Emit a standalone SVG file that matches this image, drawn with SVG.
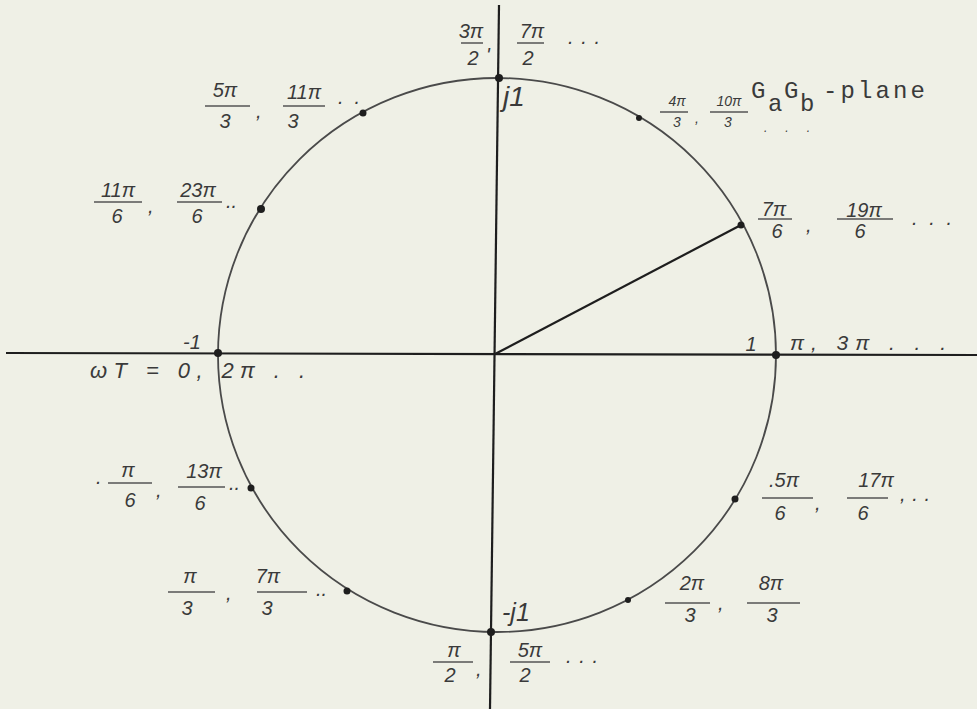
<svg xmlns="http://www.w3.org/2000/svg" width="977" height="709" viewBox="0 0 977 709">
<style>
.h{font-family:"Liberation Sans","DejaVu Sans",sans-serif;font-style:italic;font-size:20px;fill:#3a3a3a;text-anchor:middle}
.s{font-family:"Liberation Sans","DejaVu Sans",sans-serif;font-style:italic;font-size:20px;fill:#3a3a3a}
.sm{font-size:14px}
.m{font-family:"Liberation Mono","Courier New",monospace;font-size:24px;fill:#3a3a3a}
.bar{stroke:#555;stroke-width:1.5}
.ax{stroke:#1e1e1e;stroke-width:2.2;fill:none}
.circ{stroke:#4a4a4a;stroke-width:1.8;fill:none}
.dot{fill:#1e1e1e}
</style>
<rect width="977" height="709" fill="#eff0e6"/>
<g id="connectors">
<line class="ax" x1="6" y1="353" x2="977" y2="355"/>
<line class="ax" x1="499" y1="5" x2="490" y2="709"/>
<ellipse class="circ" cx="497" cy="355" rx="279" ry="277"/>
<line class="ax" x1="495" y1="354" x2="741" y2="225" stroke-width="2"/>
</g>
<g id="points">
<circle class="dot" cx="499" cy="78" r="4"/>
<circle class="dot" cx="363" cy="113" r="3.5"/>
<circle class="dot" cx="261" cy="209" r="4"/>
<circle class="dot" cx="639" cy="118" r="3"/>
<circle class="dot" cx="741" cy="225" r="3.5"/>
<circle class="dot" cx="776" cy="355" r="4"/>
<circle class="dot" cx="218" cy="353" r="4"/>
<circle class="dot" cx="251" cy="488" r="3.5"/>
<circle class="dot" cx="347" cy="591" r="3.5"/>
<circle class="dot" cx="491" cy="632" r="4"/>
<circle class="dot" cx="628" cy="600" r="3"/>
<circle class="dot" cx="735" cy="499" r="3.5"/>
</g>
<g id="label-3pi2">
<text class="h" x="471" y="38">3π</text><line class="bar" x1="461" y1="43" x2="483" y2="43"/><text class="h" x="473" y="65">2</text><text class="s" x="486" y="62">'</text>
</g>
<g id="label-7pi2">
<text class="h" x="532" y="38">7π</text><line class="bar" x1="517" y1="43" x2="544" y2="43"/><text class="h" x="528" y="65">2</text><text class="s" x="568" y="44" textLength="32">. . .</text>
</g>
<g id="label-j1"><text class="s" x="503" y="106" style="font-size:28px">j1</text></g>
<g id="label-4pi3">
<text class="h sm" x="677" y="106">4π</text><line class="bar" x1="660" y1="112" x2="688" y2="112"/><text class="h sm" x="677" y="127">3</text><text class="s sm" x="695" y="123">,</text>
</g>
<g id="label-10pi3">
<text class="h sm" x="729" y="106">10π</text><line class="bar" x1="710" y1="112" x2="748" y2="112"/><text class="h sm" x="728" y="127">3</text><text class="s" x="764" y="132" style="font-size:12px" textLength="46">. . .</text>
</g>
<g id="title">
<text class="m" x="751" y="98">G</text><text class="m" x="768" y="111">a</text><text class="m" x="784" y="98">G</text><text class="m" x="800" y="111">b</text><text class="m" x="823" y="98" textLength="102">-plane</text>
</g>
<g id="label-5pi3">
<text class="h" x="225" y="97">5π</text><line class="bar" x1="205" y1="106" x2="250" y2="106"/><text class="h" x="225" y="128">3</text><text class="s" x="256" y="118">,</text>
</g>
<g id="label-11pi3">
<text class="h" x="304" y="99">11π</text><line class="bar" x1="283" y1="106" x2="325" y2="106"/><text class="h" x="293" y="128">3</text><text class="s" x="338" y="104" textLength="22">. .</text>
</g>
<g id="label-11pi6">
<text class="h" x="118" y="197">11π</text><line class="bar" x1="94" y1="202" x2="142" y2="202"/><text class="h" x="117" y="223">6</text><text class="s" x="148" y="213">,</text>
</g>
<g id="label-23pi6">
<text class="h" x="198" y="197">23π</text><line class="bar" x1="177" y1="202" x2="222" y2="202"/><text class="h" x="197" y="223">6</text><text class="s" x="226" y="208">..</text>
</g>
<g id="label-7pi6">
<text class="h" x="774" y="216">7π</text><line class="bar" x1="758" y1="219" x2="792" y2="219"/><text class="h" x="777" y="238">6</text><text class="s" x="806" y="232">,</text>
</g>
<g id="label-19pi6">
<text class="h" x="864" y="217">19π</text><line class="bar" x1="837" y1="219" x2="893" y2="219"/><text class="h" x="860" y="238">6</text><text class="s" x="912" y="225" textLength="40">. . .</text>
</g>
<g id="label-minus1"><text class="h" x="192" y="349">-1</text></g>
<g id="label-wt"><text class="s" x="90" y="378" style="font-size:22px" textLength="215">ωT = 0, 2π . .</text></g>
<g id="label-1"><text class="h" x="751" y="351">1</text></g>
<g id="label-pi3pi"><text class="s" x="790" y="350" style="font-size:21px" textLength="156">π, 3π . . .</text></g>
<g id="label-pi6">
<text class="s" x="96" y="484">.</text><text class="h" x="128" y="477">π</text><line class="bar" x1="108" y1="483" x2="152" y2="483"/><text class="h" x="130" y="507">6</text><text class="s" x="156" y="497">,</text>
</g>
<g id="label-13pi6">
<text class="h" x="204" y="478">13π</text><line class="bar" x1="178" y1="487" x2="225" y2="487"/><text class="h" x="200" y="510">6</text><text class="s" x="229" y="490">..</text>
</g>
<g id="label-pi3">
<text class="h" x="190" y="583">π</text><line class="bar" x1="168" y1="592" x2="215" y2="592"/><text class="h" x="187" y="615">3</text><text class="s" x="226" y="600">,</text>
</g>
<g id="label-7pi3">
<text class="h" x="268" y="583">7π</text><line class="bar" x1="257" y1="592" x2="307" y2="592"/><text class="h" x="267" y="615">3</text><text class="s" x="316" y="596">..</text>
</g>
<g id="label-5pi6">
<text class="h" x="784" y="487">.5π</text><line class="bar" x1="762" y1="498" x2="813" y2="498"/><text class="h" x="780" y="520">6</text><text class="s" x="815" y="510">,</text>
</g>
<g id="label-17pi6">
<text class="h" x="876" y="487">17π</text><line class="bar" x1="847" y1="498" x2="888" y2="498"/><text class="h" x="863" y="520">6</text><text class="s" x="900" y="501" textLength="30">, . .</text>
</g>
<g id="label-2pi3">
<text class="h" x="692" y="590">2π</text><line class="bar" x1="665" y1="603" x2="710" y2="603"/><text class="h" x="690" y="622">3</text><text class="s" x="718" y="610">,</text>
</g>
<g id="label-8pi3">
<text class="h" x="771" y="590">8π</text><line class="bar" x1="747" y1="603" x2="800" y2="603"/><text class="h" x="772" y="622">3</text>
</g>
<g id="label-minusj1"><text class="s" x="502" y="621" style="font-size:25px">-j1</text></g>
<g id="label-pi2">
<text class="h" x="454" y="657">π</text><line class="bar" x1="433" y1="662" x2="473" y2="662"/><text class="h" x="450" y="682">2</text><text class="s" x="476" y="676">,</text>
</g>
<g id="label-5pi2">
<text class="h" x="530" y="657">5π</text><line class="bar" x1="510" y1="662" x2="550" y2="662"/><text class="h" x="525" y="682">2</text><text class="s" x="566" y="663" textLength="32">. . .</text>
</g>
</svg>
